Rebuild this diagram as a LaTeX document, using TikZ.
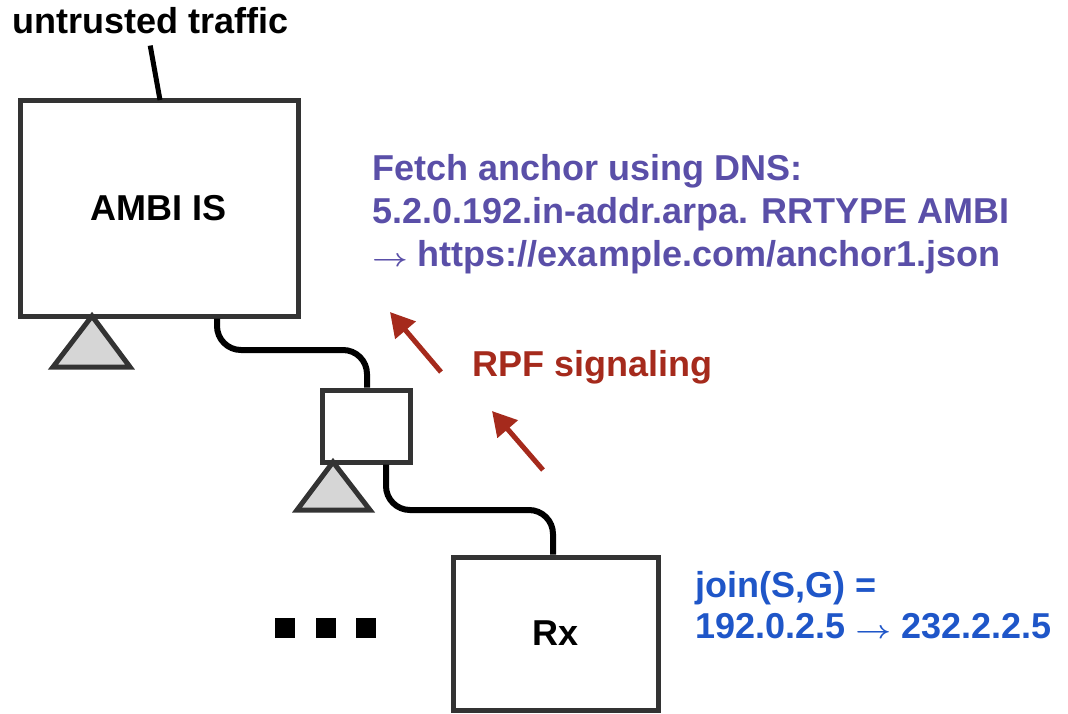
\documentclass[tikz,border=0pt]{standalone}
\usepackage{fontspec}
\setmainfont{Liberation Sans}
\usetikzlibrary{arrows.meta}
\definecolor{edgegray}{HTML}{333333}
\definecolor{antfill}{HTML}{D6D6D6}
\definecolor{rpfred}{HTML}{A52A1C}
\definecolor{dnspurple}{HTML}{5A4FA8}
\definecolor{joinblue}{HTML}{1F56C8}
\newcommand{\longto}{\scalebox{1.25}[1]{$\boldsymbol{\rightarrow}$}}
\usepackage{amsmath,amsbsy}
\tikzset{
  lbl/.style={font=\fontsize{36}{43}\selectfont\bfseries, inner sep=0pt},
  netbox/.style={draw=edgegray, line width=5pt, fill=white, inner sep=0pt,
                 font=\fontsize{36}{43}\selectfont\bfseries},
  link/.style={line width=6pt, black, rounded corners=24pt},
  ant/.style={draw=edgegray, fill=antfill, line width=5pt, line join=miter},
  rpf/.style={draw=rpfred, line width=5pt, -{Triangle[length=24pt,width=26pt]}},
  dot/.style={fill=black, minimum size=20pt, inner sep=0pt}
}
\begin{document}
\begin{tikzpicture}[x=1pt,y=-1pt]
\useasboundingbox (0,0) rectangle (1068,713);

% incoming traffic label and its feed into the source
\node[lbl, anchor=base west] (ut) at (12,33) {untrusted traffic};
\node[netbox, minimum width=278pt, minimum height=216pt] (ambi) at (159,208) {AMBI IS};
\coordinate (feed) at (160,100);
\draw[line width=5pt, black] ([yshift=-12pt]ut.south) -- (feed);

% router and receiver
\node[netbox, minimum width=88pt, minimum height=72pt] (rtr) at (366,426) {};
\node[netbox, minimum width=205pt, minimum height=153pt] (rx) at (555.5,633.5) {Rx};

% links
\draw[link] (ambi.south -| 217,0) -- (217,350) -- (367,350) -- (rtr.north -| 367,0);
\draw[link] (rtr.south -| 386,0) -- (386,510) -- (553,510) -- (rx.north -| 553,0);

% antennas / anchors under the boxes
\draw[ant] (92,316) -- (53,367) -- (130,367) -- cycle;
\draw[ant] (333,462) -- (297,510) -- (370,510) -- cycle;

% more receivers
\node[dot] (d1) at (285,628) {};
\node[dot] (d2) at (326,628) {};
\node[dot] (d3) at (366,628) {};

% RPF signaling arrows
\coordinate (r1a) at (441,372);
\coordinate (r1b) at (390,312);
\coordinate (r2a) at (543,470);
\coordinate (r2b) at (492,411);
\draw[rpf] (r1a) -- (r1b);
\draw[rpf] (r2a) -- (r2b);
\node[lbl, text=rpfred, anchor=base west] (rpflbl) at (472,376) {RPF signaling};

% DNS lookup text
\node[lbl, text=dnspurple, anchor=base west] (dns1) at (372,180) {Fetch anchor using DNS:};
\node[lbl, text=dnspurple, anchor=base west] (dns2) at (372,223) {5.2.0.192.in-addr.arpa. RRTYPE AMBI};
\node[lbl, text=dnspurple, anchor=base west] (dns3) at (372,266) {\longto{} https://example.com/anchor1.json};

% join text
\node[lbl, text=joinblue, anchor=base west] (join1) at (695,597) {join(S,G) =};
\node[lbl, text=joinblue, anchor=base west] (join2) at (695,638) {192.0.2.5 \longto{} 232.2.2.5};
\end{tikzpicture}
\end{document}
